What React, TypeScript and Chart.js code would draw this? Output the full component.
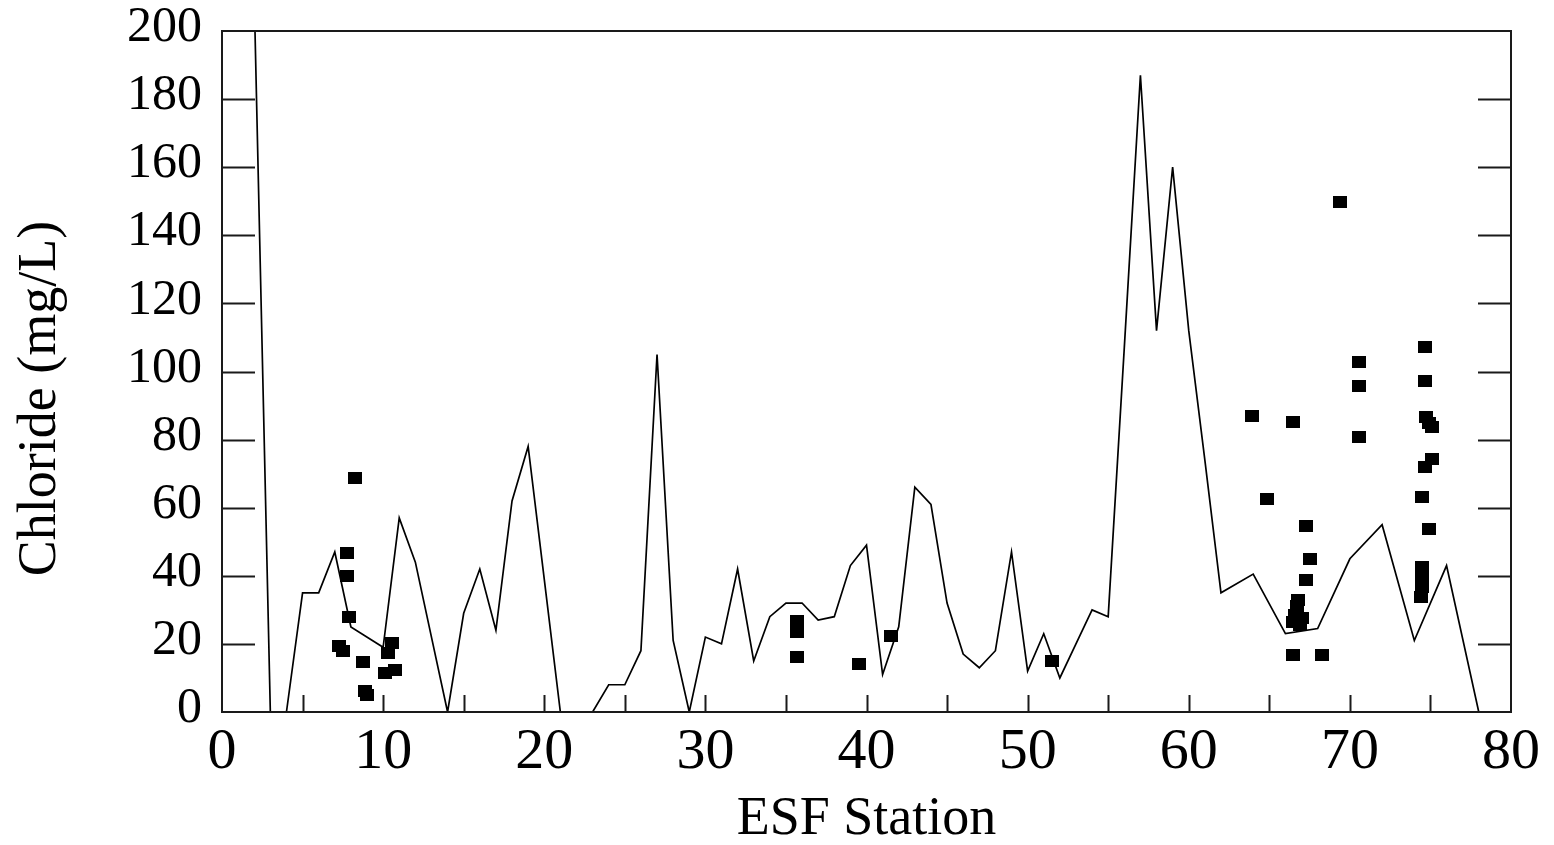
import React, { useEffect, useRef } from 'react';
import { Chart, registerables } from 'chart.js';

Chart.register(...registerables);

// Continuous profile (line)
const lineStations = [2, 3, 4, 5, 6, 7, 8, 10, 11, 12, 13, 14, 15, 16, 17, 18, 19, 20, 21, 23, 24, 25, 26, 27, 28, 29, 30, 31, 32, 33, 34, 35, 36, 37, 38, 39, 40, 41, 42, 43, 44, 45, 46, 47, 48, 49, 50, 51, 52, 53, 54, 55, 56, 57, 58, 59, 60, 61, 62, 64, 66, 68, 70, 72, 74, 76, 78];
const lineChloride = [210, 0, 0, 35, 35, 47, 25, 19, 57, 44, 22, 0, 29, 42, 24, 62, 78, 39, 0, 0, 8, 8, 18, 105, 21, 0, 22, 20, 42, 15, 28, 32, 32, 27, 28, 43, 49, 11, 25, 66, 61, 32, 17, 13, 18, 47, 12, 23, 10, 20, 30, 28, 107, 187, 112, 160, 112, 74, 35, 40.5, 23, 24.5, 45, 55, 21, 43, 0];

// Individual samples (squares)
const sampleStations = [8.26, 7.78, 7.74, 7.9, 7.28, 7.53, 8.73, 8.85, 9.0, 10.53, 10.33, 10.12, 10.74, 35.67, 35.67, 35.67, 39.52, 41.5, 51.52, 63.92, 64.85, 66.5, 67.29, 67.54, 67.29, 66.8, 66.7, 66.6, 66.5, 67.0, 66.9, 66.5, 68.3, 69.4, 70.54, 70.54, 70.54, 74.67, 74.67, 74.74, 74.9, 75.09, 75.09, 74.67, 74.5, 74.94, 74.5, 74.5, 74.45, 74.4];
const sampleChloride = [68.6, 46.8, 39.9, 27.8, 19.4, 18.0, 14.8, 6.3, 5.0, 20.4, 17.2, 11.5, 12.3, 26.8, 23.4, 16.2, 14.0, 22.3, 15.1, 86.9, 62.6, 85.3, 54.7, 44.9, 38.8, 33.0, 31.0, 28.5, 26.5, 27.5, 25.5, 16.7, 16.7, 149.9, 102.9, 95.8, 80.8, 107.3, 97.3, 86.7, 85.0, 83.6, 74.2, 72.0, 63.0, 53.7, 42.7, 39.7, 36.8, 33.9];

// Axis ticks
const xMinorTicks = [5, 10, 15, 20, 25, 30, 35, 40, 45, 50, 55, 60, 65, 70, 75];
const yTicks = [20, 40, 60, 80, 100, 120, 140, 160, 180];
const xTitle = 'ESF Station';
const yTitle = 'Chloride (mg/L)';

const SERIF = "'Liberation Serif', 'Times New Roman', serif";

export default function App() {
  const ref = useRef<HTMLCanvasElement>(null);

  useEffect(() => {
    if (!ref.current) return;
    const marker = document.createElement('canvas');
    marker.width = 14;
    marker.height = 12;
    const mctx = marker.getContext('2d');
    if (mctx) {
      mctx.fillStyle = '#000';
      mctx.fillRect(0, 0, 14, 12);
    }

    const framePlugin = {
      id: 'frame',
      afterDatasetsDraw(chart: any) {
        const { ctx, chartArea } = chart;
        const { left, right, top, bottom } = chartArea;
        const xs = chart.scales.x;
        const ys = chart.scales.y;
        ctx.save();
        ctx.strokeStyle = '#1a1a1a';
        ctx.lineWidth = 2;
        ctx.strokeRect(left, top, right - left, bottom - top);
        ctx.beginPath();
        for (const v of yTicks) {
          const py = Math.round(ys.getPixelForValue(v)) + 0.5;
          ctx.moveTo(left, py);
          ctx.lineTo(left + 33, py);
          ctx.moveTo(right, py);
          ctx.lineTo(right - 33, py);
        }
        for (const v of xMinorTicks) {
          const px = Math.round(xs.getPixelForValue(v)) + 0.5;
          ctx.moveTo(px, bottom);
          ctx.lineTo(px, bottom - 17);
        }
        ctx.stroke();
        ctx.restore();
      },
    };

    const chart = new Chart(ref.current, {
      type: 'scatter',
      data: {
        datasets: [
          {
            label: 'Samples',
            data: sampleStations.map((x, i) => ({ x, y: sampleChloride[i] })),
            pointStyle: marker as any,
            pointRadius: 7,
            backgroundColor: '#000',
            borderColor: '#000',
            showLine: false,
          },
          {
            label: 'Profile',
            data: lineStations.map((x, i) => ({ x, y: lineChloride[i] })),
            showLine: true,
            borderColor: '#000',
            borderWidth: 1.7,
            pointRadius: 0,
            tension: 0,
            fill: false,
          },
        ],
      },
      plugins: [framePlugin],
      options: {
        animation: false,
        responsive: true,
        maintainAspectRatio: false,
        layout: { padding: { top: 23, right: 35, left: 0, bottom: 0 } },
        plugins: {
          legend: { display: false },
          tooltip: { enabled: false },
        },
        scales: {
          x: {
            type: 'linear',
            min: 0,
            max: 80,
            border: { display: false },
            grid: { display: false, drawTicks: false },
            ticks: {
              stepSize: 10,
              color: '#000',
              padding: 6,
              maxRotation: 0,
              font: { family: SERIF, size: 58, lineHeight: 1.2 },
            },
            title: {
              display: true,
              text: xTitle,
              color: '#000',
              padding: 0,
              font: { family: SERIF, size: 54, lineHeight: 0.62 },
            },
            afterFit: (s: any) => {
              s.height = 125;
              s.paddingLeft = 0;
              s.paddingRight = 0;
            },
          },
          y: {
            type: 'linear',
            min: 0,
            max: 200,
            border: { display: false },
            grid: { display: false, drawTicks: false },
            ticks: {
              stepSize: 20,
              color: '#000',
              padding: 20,
              labelOffset: -3,
              font: { family: SERIF, size: 50, lineHeight: 0.9 },
            },
            title: {
              display: true,
              text: yTitle + '    ',
              color: '#000',
              padding: 0,
              font: { family: SERIF, size: 54, lineHeight: 1.2 },
            },
            afterFit: (s: any) => {
              s.width = 214;
              s.paddingTop = 0;
              s.paddingBottom = 0;
            },
          },
        },
      },
    });

    return () => chart.destroy();
  }, []);

  return (
    <div style={{ width: '1538px', height: '829px', position: 'relative' }}>
      <canvas ref={ref} />
    </div>
  );
}
